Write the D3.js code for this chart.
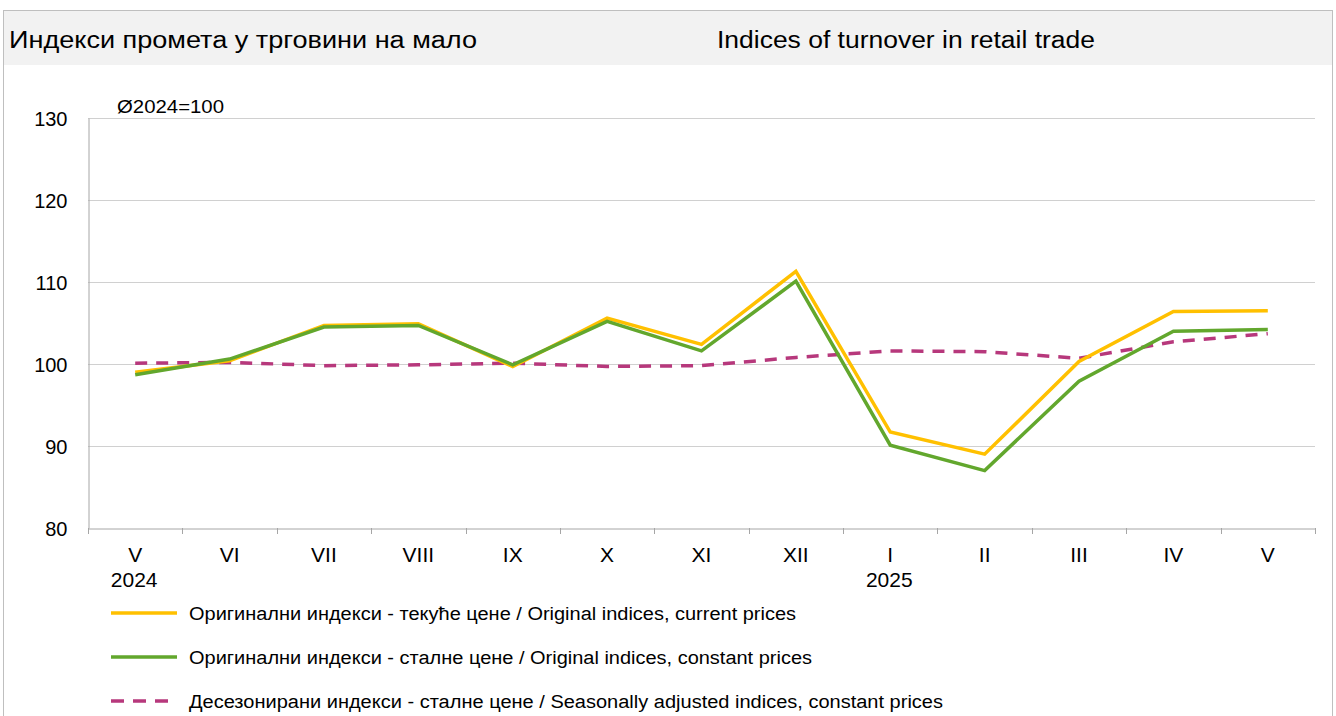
<!DOCTYPE html>
<html>
<head>
<meta charset="utf-8">
<script src="https://cdn.jsdelivr.net/npm/d3@7"></script>
<style>
  body { margin: 0; background: #fff; }
  svg { display: block; font-family: "Liberation Sans", Arial, sans-serif; }
</style>
</head>
<body>
<svg class="svg"></svg>
<script>
const months = ['V', 'VI', 'VII', 'VIII', 'IX', 'X', 'XI', 'XII', 'I', 'II', 'III', 'IV', 'V'];
const years = ['2024', '', '', '', '', '', '', '', '2025', '', '', '', ''];
const currentPrices = [99.0, 100.4, 104.7, 104.9, 99.7, 105.6, 102.4, 111.3, 91.7, 89.0, 100.3, 106.4, 106.5];
const constantPrices = [98.7, 100.6, 104.5, 104.7, 99.9, 105.2, 101.6, 110.1, 90.1, 87.0, 97.9, 104.0, 104.2];
const seasonal = [100.1, 100.2, 99.8, 99.9, 100.1, 99.7, 99.8, 100.8, 101.6, 101.5, 100.7, 102.7, 103.7];
const yTicks = [80, 90, 100, 110, 120, 130];
const seriesNames = [
  'Оригинални индекси - текуће цене / Original indices, current prices',
  'Оригинални индекси - сталне цене / Original indices, constant prices',
  'Десезонирани индекси - сталне цене / Seasonally adjusted indices, constant prices'
];

const width = 1336;
const height = 716;

const svg = d3.select('.svg').attr('width', width).attr('height', height);

// frame + title band
svg.append('rect')
  .attr('x', 3.5).attr('y', 10.5)
  .attr('width', 1329).attr('height', 720)
  .attr('fill', '#fff').attr('stroke', '#bfbfbf');
svg.append('rect')
  .attr('x', 4).attr('y', 11)
  .attr('width', 1328).attr('height', 54)
  .attr('fill', '#f2f2f2');
svg.append('text').attr('x', 9).attr('y', 48)
  .attr('font-size', 23).attr('fill', '#000')
  .attr('textLength', 468).attr('lengthAdjust', 'spacingAndGlyphs')
  .text('Индекси промета у трговини на мало');
svg.append('text').attr('x', 717).attr('y', 48)
  .attr('font-size', 23).attr('fill', '#000')
  .attr('textLength', 378).attr('lengthAdjust', 'spacingAndGlyphs')
  .text('Indices of turnover in retail trade');

const plot = { left: 88, right: 1315, top: 118, bottom: 528 };

const x = d3.scaleBand()
  .domain(d3.range(months.length))
  .range([plot.left, plot.right]);

const y = d3.scaleLinear()
  .domain([80, 130])
  .range([plot.bottom, plot.top]);

const g = svg.append('g');

// gridlines
g.append('g')
  .selectAll('line')
  .data(yTicks.slice(1))
  .join('line')
  .attr('x1', plot.left).attr('x2', plot.right)
  .attr('y1', d => y(d) + 0.5).attr('y2', d => y(d) + 0.5)
  .attr('stroke', '#d0d0d0').attr('stroke-width', 1);

// y axis
const yAxis = g.append('g')
  .attr('transform', `translate(${plot.left + 0.5},0)`)
  .call(d3.axisLeft(y).tickValues(yTicks).tickSize(0).tickPadding(21));
yAxis.select('.domain').attr('stroke', '#a6a6a6');
yAxis.selectAll('text').attr('font-size', 20).attr('fill', '#000')
  .attr('font-family', 'inherit').attr('dy', '0.35em');

// x axis
const xAxis = g.append('g')
  .attr('transform', `translate(0,${plot.bottom + 0.5})`)
  .call(d3.axisBottom(x).tickSize(0).tickFormat(''));
xAxis.select('.domain').attr('stroke', '#a6a6a6');
xAxis.selectAll('.tick').remove();

g.append('g')
  .selectAll('line')
  .data(d3.range(months.length + 1))
  .join('line')
  .attr('x1', d => Math.round(plot.left + d * x.step()) + 0.5)
  .attr('x2', d => Math.round(plot.left + d * x.step()) + 0.5)
  .attr('y1', plot.bottom).attr('y2', plot.bottom + 6)
  .attr('stroke', '#a6a6a6');

g.append('g')
  .selectAll('text')
  .data(months)
  .join('text')
  .attr('x', (d, i) => x(i) + x.bandwidth() / 2)
  .attr('y', 562)
  .attr('text-anchor', 'middle')
  .attr('font-size', 21)
  .text(d => d);

g.append('g')
  .selectAll('text')
  .data(years)
  .join('text')
  .attr('x', (d, i) => x(i) + x.bandwidth() / 2 - 1)
  .attr('y', 587)
  .attr('text-anchor', 'middle')
  .attr('font-size', 21)
  .text(d => d);

g.append('text').attr('x', 117).attr('y', 113)
  .attr('font-size', 19)
  .attr('textLength', 107).attr('lengthAdjust', 'spacingAndGlyphs')
  .text('Ø2024=100');

// lines
const line = d3.line()
  .x((d, i) => x(i) + x.bandwidth() / 2)
  .y(d => y(d));

const series = [
  { values: currentPrices, color: '#ffc000', dash: null, len: 607 },
  { values: constantPrices, color: '#62a72d', dash: null, len: 623 },
  { values: seasonal, color: '#b7387c', dash: '12,9', len: 754 }
];

// dashed series sits underneath the two originals
[series[2], series[0], series[1]].forEach(s => {
  g.append('path')
    .attr('d', line(s.values))
    .attr('fill', 'none')
    .attr('stroke', s.color)
    .attr('stroke-width', 3.5)
    .attr('stroke-linejoin', 'miter')
    .attr('stroke-dasharray', s.dash);
});

// legend
const legend = g.append('g')
  .selectAll('g')
  .data(series)
  .join('g')
  .attr('transform', (d, i) => `translate(0,${613 + i * 44})`);

legend.append('line')
  .attr('x1', 111).attr('x2', 177)
  .attr('y1', 0).attr('y2', 0)
  .attr('stroke', d => d.color)
  .attr('stroke-width', 3.5)
  .attr('stroke-dasharray', d => d.dash ? '13,9' : null);

legend.append('text')
  .attr('x', 189).attr('y', 6.5)
  .attr('font-size', 18)
  .attr('textLength', d => d.len).attr('lengthAdjust', 'spacingAndGlyphs')
  .text((d, i) => seriesNames[i]);
</script>
</body>
</html>
